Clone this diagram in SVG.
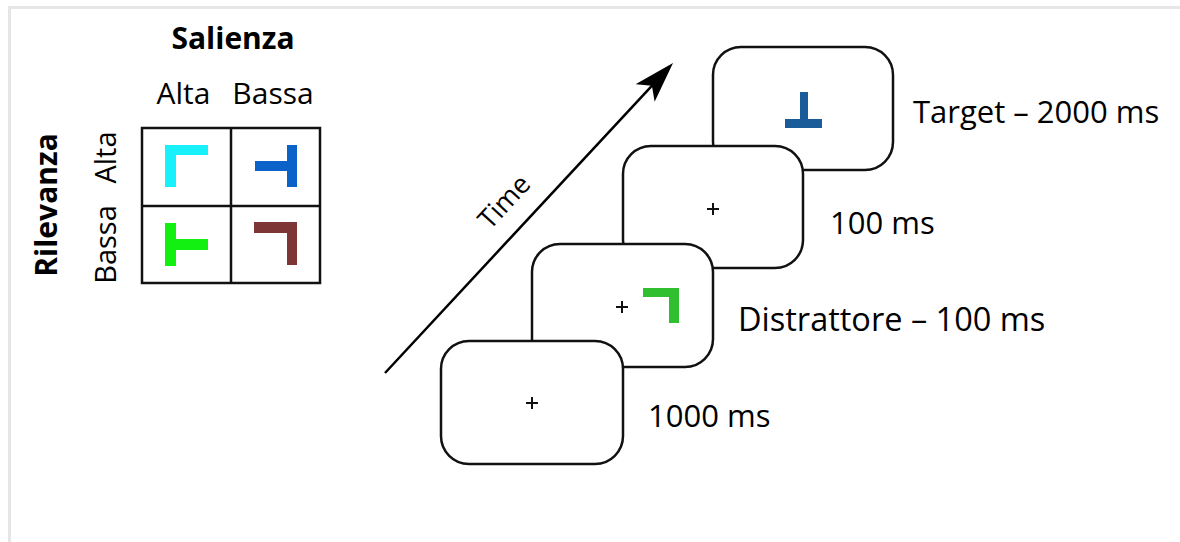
<svg xmlns="http://www.w3.org/2000/svg" width="1180" height="542" viewBox="0 0 1180 542">
<defs>
<style>
.t{font-family:"Open Sans","Liberation Sans",sans-serif;fill:#000}
.b{font-weight:bold}
.box{fill:#fff;stroke:#111;stroke-width:2.5}
.grid{fill:none;stroke:#111;stroke-width:2.5}
.cross{stroke:#111;stroke-width:2;fill:none}
.ax{stroke:#000;stroke-width:2.5;fill:none}
</style>
<marker id="ah" viewBox="0 0 41 26" refX="16" refY="13" markerWidth="41" markerHeight="26" markerUnits="userSpaceOnUse" orient="auto">
<path d="M41,13 L0,0 L10,13 L0,26 Z" fill="#000"/>
</marker>
<path id="plus" d="M-6,0 H6 M0,-6 V6" class="cross"/>
</defs>
<rect width="1180" height="542" fill="#fff"/>
<path d="M9.5,542 V7.5 H1180" fill="none" stroke="#e6e6e6" stroke-width="3"/>

<g id="legend">
<text class="t b" x="233" y="49" font-size="30" text-anchor="middle">Salienza</text>
<text class="t" x="183.5" y="104" font-size="30" text-anchor="middle">Alta</text>
<text class="t" x="273" y="104" font-size="30" text-anchor="middle">Bassa</text>
<text class="t b" transform="translate(57,205) rotate(-90)" font-size="30" text-anchor="middle">Rilevanza</text>
<text class="t" transform="translate(116,244.5) rotate(-90)" font-size="29" text-anchor="middle">Bassa</text>
<text class="t" transform="translate(116,157.5) rotate(-90)" font-size="29" text-anchor="middle">Alta</text>
<rect class="grid" x="142" y="128" width="178" height="155"/>
<path class="grid" d="M231,128 V283 M142,206 H320"/>
<path d="M165,145 H208 V155 H176 V187 H165 Z" fill="#18f0fc"/>
<path d="M287,145 H297 V187 H287 V171 H255 V161 H287 Z" fill="#0b63c9"/>
<path d="M165,223 H176 V239 H208 V250 H176 V266 H165 Z" fill="#12f012"/>
<path d="M254,222 H297 V265 H287 V233 H254 Z" fill="#7e3535"/>
</g>

<g id="connectors">
<line class="ax" x1="385" y1="373" x2="656" y2="81.3" marker-end="url(#ah)"/>
</g>
<text class="t" transform="translate(511,208) rotate(-47.4)" font-size="27" text-anchor="middle">Time</text>

<g id="target">
<rect class="box" x="713" y="47" width="180" height="123" rx="28"/>
<path d="M800,92 H808 V119 H822 V128 H785 V119 H800 Z" fill="#1a5c9a"/>
<text class="t" x="913" y="123" font-size="31">Target – 2000 ms</text>
</g>
<g id="isi">
<rect class="box" x="623" y="146" width="180" height="122" rx="28"/>
<use href="#plus" x="713" y="209"/>
<text class="t" x="830" y="234" font-size="31">100 ms</text>
</g>
<g id="distractor">
<rect class="box" x="532" y="244" width="181" height="123" rx="28"/>
<use href="#plus" x="622" y="307"/>
<path d="M643,288 H679 V323 H669 V297 H643 Z" fill="#2fbf2f"/>
<text class="t" x="738" y="331" font-size="32.5">Distrattore – 100 ms</text>
</g>
<g id="fixation">
<rect class="box" x="441" y="341" width="182" height="123" rx="28"/>
<use href="#plus" x="532" y="403"/>
<text class="t" x="648" y="427" font-size="31">1000 ms</text>
</g>
</svg>
